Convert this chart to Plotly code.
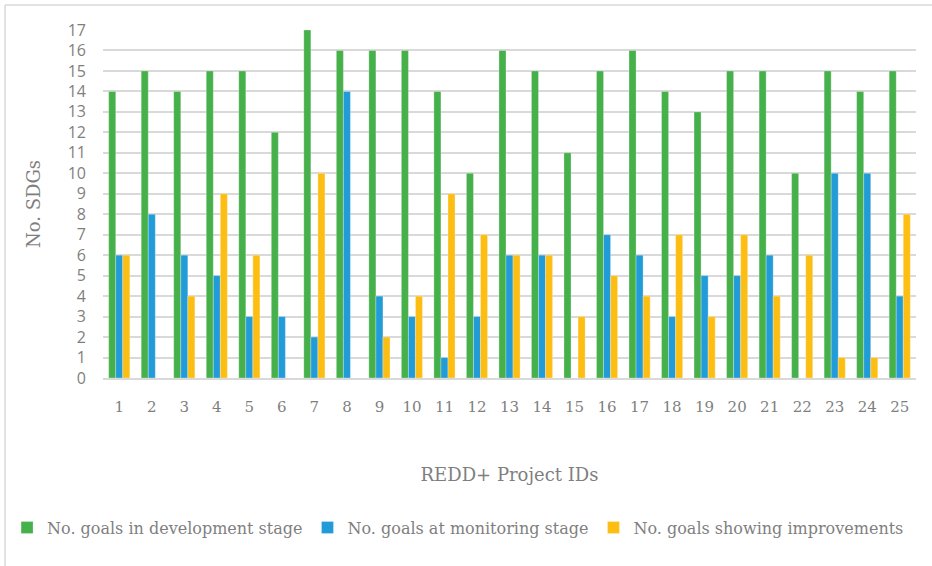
import plotly.graph_objects as go

project_ids = [str(i) for i in range(1, 26)]
dev_stage = [14, 15, 14, 15, 15, 12, 17, 16, 16, 16, 14, 10, 16, 15, 11, 15, 16, 14, 13, 15, 15, 10, 15, 14, 15]
monitoring_stage = [6, 8, 6, 5, 3, 3, 2, 14, 4, 3, 1, 3, 6, 6, 0, 7, 6, 3, 5, 5, 6, 0, 10, 10, 4]
improvements = [6, 0, 4, 9, 6, 0, 10, 0, 2, 4, 9, 7, 6, 6, 3, 5, 4, 7, 3, 7, 4, 6, 1, 1, 8]
y_ticks = list(range(0, 18))

series = [
    ("No. goals in development stage", dev_stage, "#46B04B"),
    ("No. goals at monitoring stage", monitoring_stage, "#229CD8"),
    ("No. goals showing improvements", improvements, "#FDBE14"),
]

serif = "DejaVu Serif, Liberation Serif, serif"
grey = "#7F7F7F"

fig = go.Figure()
for name, vals, color in series:
    fig.add_trace(go.Bar(
        x=project_ids, y=vals, name=name,
        marker=dict(color=color, line=dict(color="rgba(255,255,255,0.35)", width=0.8)),
    ))

fig.update_layout(
    width=932, height=566,
    margin=dict(l=103, r=16, t=30, b=188, autoexpand=False),
    paper_bgcolor="white", plot_bgcolor="white",
    barmode="group", bargap=0.35, bargroupgap=0,
    xaxis=dict(
        type="category",
        showgrid=False, showline=True, linecolor="#D9D9D9", linewidth=2,
        ticks="", tickfont=dict(family=serif, size=15, color=grey),
        ticklabelstandoff=14,
        title=dict(text="REDD+ Project IDs", font=dict(family=serif, size=18, color=grey), standoff=53),
    ),
    yaxis=dict(
        range=[0, 17], tickvals=y_ticks,
        showgrid=True, gridcolor="#D9D9D9", gridwidth=2,
        zeroline=False, showline=False, ticks="",
        tickfont=dict(family="Open Sans, Liberation Sans, sans-serif", size=16, color=grey),
        ticklabelstandoff=16,
        title=dict(text="No. SDGs", font=dict(family=serif, size=18, color=grey), standoff=22),
    ),
    legend=dict(
        orientation="h", x=-0.118, xanchor="left", xref="paper",
        y=-0.43, yanchor="middle",
        font=dict(family=serif, size=16, color=grey),
        itemwidth=30, tracegroupgap=0,
    ),
    shapes=[
        dict(type="line", xref="paper", yref="paper", x0=-0.1205, x1=1.02, y0=1.0718, y1=1.0718,
             line=dict(color="#D9D9D9", width=1.5)),
        dict(type="line", xref="paper", yref="paper", x0=-0.1205, x1=-0.1205, y0=1.0718, y1=-0.54,
             line=dict(color="#D9D9D9", width=1.5)),
    ],
)

fig.write_html("out.html")
